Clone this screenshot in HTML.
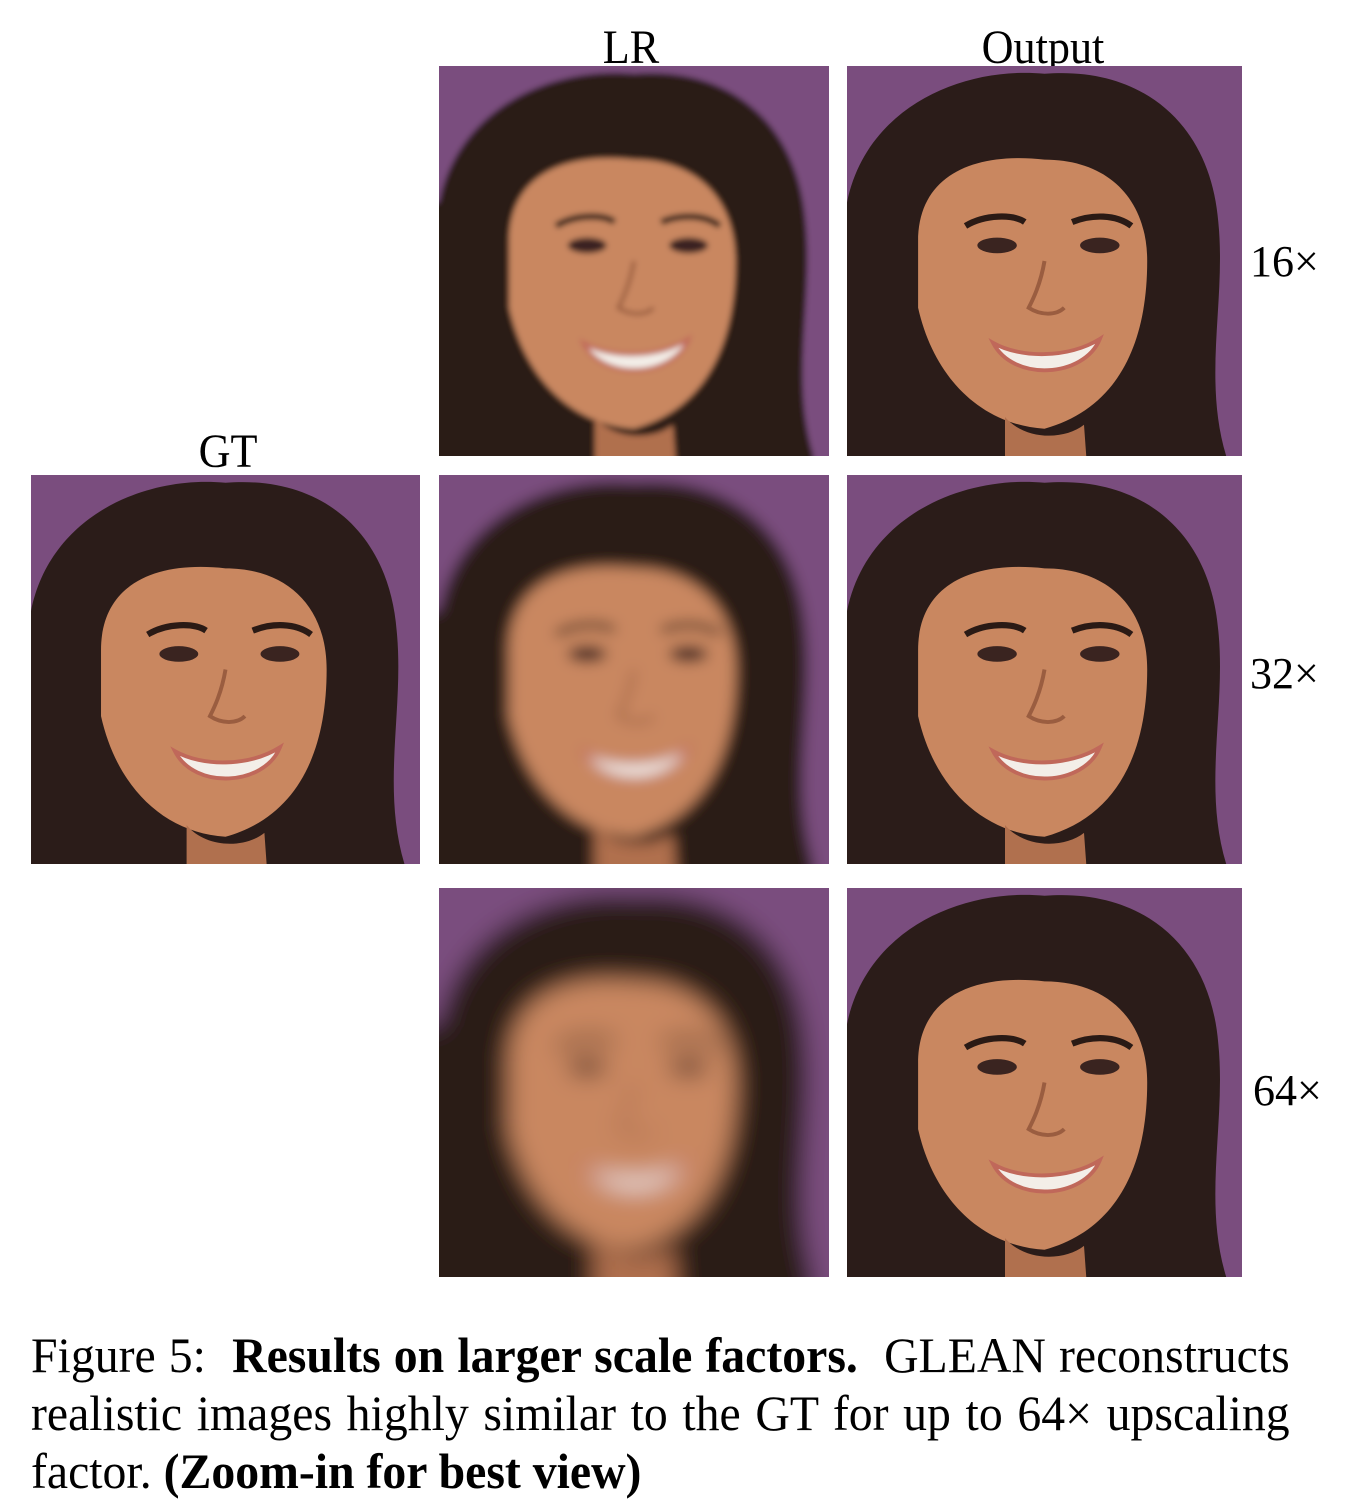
<!DOCTYPE html>
<html><head><meta charset="utf-8"><style>
html,body{margin:0;padding:0;background:#fff;}
body{width:1364px;height:1512px;position:relative;overflow:hidden;font-family:"Liberation Serif",serif;color:#000;}
.lbl{position:absolute;font-size:48px;line-height:1;transform:translateX(-50%) scaleX(0.92);white-space:nowrap;}
.sc{position:absolute;font-size:44px;line-height:1;white-space:nowrap;}
svg.img{position:absolute;display:block;overflow:hidden;}
.cap{position:absolute;left:31px;font-size:50px;line-height:1;white-space:nowrap;transform-origin:0 0;transform:scaleX(0.955);}
.just{width:1318px;text-align:justify;text-align-last:justify;}
</style></head><body>
<svg width="0" height="0" style="position:absolute">
<defs>
<symbol id="face" viewBox="0 0 100 100" preserveAspectRatio="none" overflow="visible">
<rect x="-20" y="-20" width="140" height="140" fill="#7a4d7e"/>
<path d="M-20 35 L0 35 C5 10 30 0 50 2 C75 0 92 15 94 40 C96 60 90 80 96 100 L96 120 L-20 120 Z" fill="#2b1c19"/>
<path d="M18 45 C18 28 32 22 50 24 C66 24 76 34 76 50 C76 72 68 88 50 93 C34 92 22 80 18 62 Z" fill="#c98760"/>
<path d="M40 90 C45 96 55 96 60 92 L62 120 L40 120 Z" fill="#b0704e"/>
<path d="M30 41 C35 38 42 38 45 40" stroke="#2a1a15" stroke-width="1.6" fill="none"/>
<path d="M57 40 C62 38 68 38 72 41" stroke="#2a1a15" stroke-width="1.6" fill="none"/>
<ellipse cx="38" cy="46" rx="5" ry="2" fill="#3a2420"/>
<ellipse cx="64" cy="46" rx="5" ry="2" fill="#3a2420"/>
<path d="M50 50 C49 56 47 60 46 62 C49 64 53 64 55 62" stroke="#9a5d40" stroke-width="1" fill="none"/>
<path d="M37 71 C44 75 56 75 64 70 C60 80 42 81 37 71 Z" fill="#f3eee8" stroke="#c0685a" stroke-width="1"/>
</symbol>
<filter id="blur4" x="-20%" y="-20%" width="140%" height="140%"><feGaussianBlur stdDeviation="3"/></filter>
<filter id="blur8" x="-20%" y="-20%" width="140%" height="140%"><feGaussianBlur stdDeviation="7"/></filter>
<filter id="blur14" x="-20%" y="-20%" width="140%" height="140%"><feGaussianBlur stdDeviation="12"/></filter>
</defs>
</svg>

<div class="lbl" style="left:631px;top:24px">LR</div>
<div class="lbl" style="left:1043px;top:24px">Output</div>
<div class="lbl" style="left:228px;top:428px">GT</div>

<svg class="img" style="left:439px;top:66px" width="390" height="390"><g filter="url(#blur4)"><use href="#face" width="390" height="390"/></g></svg>
<svg class="img" style="left:847px;top:66px" width="395" height="390"><use href="#face" width="395" height="390"/></svg>
<svg class="img" style="left:31px;top:475px" width="389" height="389"><use href="#face" width="389" height="389"/></svg>
<svg class="img" style="left:439px;top:475px" width="390" height="389"><g filter="url(#blur8)"><use href="#face" width="390" height="389"/></g></svg>
<svg class="img" style="left:847px;top:475px" width="395" height="389"><use href="#face" width="395" height="389"/></svg>
<svg class="img" style="left:439px;top:888px" width="390" height="389"><g filter="url(#blur14)"><use href="#face" width="390" height="389"/></g></svg>
<svg class="img" style="left:847px;top:888px" width="395" height="389"><use href="#face" width="395" height="389"/></svg>

<div class="sc" style="left:1250px;top:240px">16×</div>
<div class="sc" style="left:1250px;top:652px">32×</div>
<div class="sc" style="left:1253px;top:1069px">64×</div>

<div class="cap just" style="top:1330px">Figure 5:&nbsp; <b>Results on larger scale factors.</b>&nbsp; GLEAN reconstructs</div>
<div class="cap just" style="top:1388px">realistic images highly similar to the GT for up to 64× upscaling</div>
<div class="cap" style="top:1446px">factor. <b>(Zoom-in for best view)</b></div>
</body></html>
